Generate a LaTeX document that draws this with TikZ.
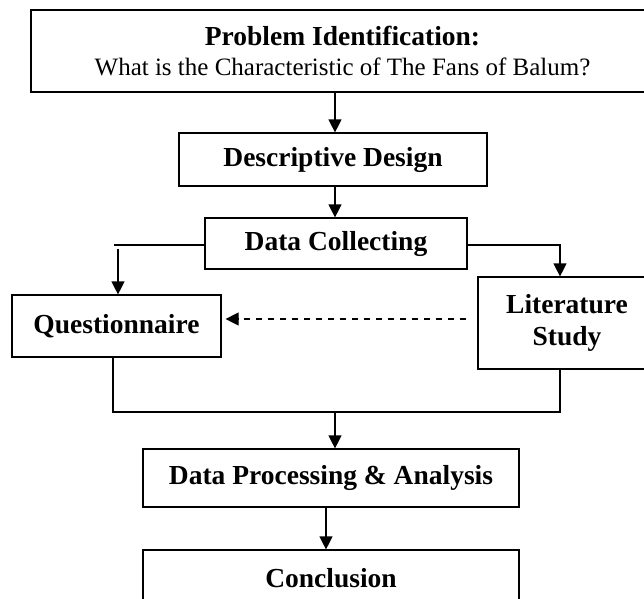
\documentclass[tikz,border=0pt]{standalone}
\usepackage{fontspec}
\setmainfont{Liberation Serif}
\usetikzlibrary{arrows.meta,calc}
\begin{document}
\begin{tikzpicture}[x=1pt,y=-1pt,
  box/.style={draw,line width=1.2pt,inner sep=0pt,align=center,font=\fontsize{27.5}{32}\selectfont\bfseries},
  conn/.style={line width=1.2pt},
  arr/.style={conn,-{Triangle[length=13pt,width=13pt]}},
  dsh/.style={arr,dash pattern=on 6.5pt off 5.5pt}]
\useasboundingbox (0,0) rectangle (644,598);
\node[box,minimum width=623pt,minimum height=82pt,font=\fontsize{27.5}{30}\selectfont\bfseries] (prob) at (342.5,51)
  {Problem Identification:\\{\fontsize{25}{30}\selectfont\mdseries What is the Characteristic of The Fans of Balum?}};
\node[box,minimum width=308pt,minimum height=53pt] (dd) at (333,159.5) {Descriptive Design};
\node[box,minimum width=262pt,minimum height=51pt] (dc) at (336,243.5) {Data Collecting};
\node[box,minimum width=209pt,minimum height=62pt] (q) at (116.5,326) {Questionnaire};
\node[box,minimum width=178pt,minimum height=92pt] (lit) at (567,323) {Literature\\Study};
\node[box,minimum width=376pt,minimum height=58pt] (dpa) at (331,478) {Data Processing \& Analysis};
\node[box,minimum width=376pt,minimum height=56pt] (conc) at (331,578) {Conclusion};

\draw[arr] ([xshift=2pt]dd.north |- prob.south) -- ([xshift=2pt]dd.north);
\draw[arr] ([xshift=-1pt]dc.north |- dd.south) -- ([xshift=-1pt]dc.north);
\coordinate (ql) at (114,245);
\coordinate (qa) at (118,249);
\draw[conn] ([yshift=-1.5pt]dc.west) -- (ql);
\draw[arr] (qa) -- (qa |- q.north);
\draw[arr] ([yshift=-1.5pt]dc.east) -| ([xshift=-7pt]lit.north);
\draw[dsh] ([xshift=-11pt,yshift=4pt]lit.west) -- ([xshift=4pt,yshift=4pt]lit.west -| q.east);
\coordinate (jn) at (335,412);
\draw[conn] ([xshift=-3.5pt]q.south) |- (jn) -| ([xshift=-7pt]lit.south);
\draw[arr] (jn) -- (jn |- dpa.north);
\draw[arr] ([xshift=-5pt]dpa.south) -- ([xshift=-5pt]conc.north);
\end{tikzpicture}
\end{document}
